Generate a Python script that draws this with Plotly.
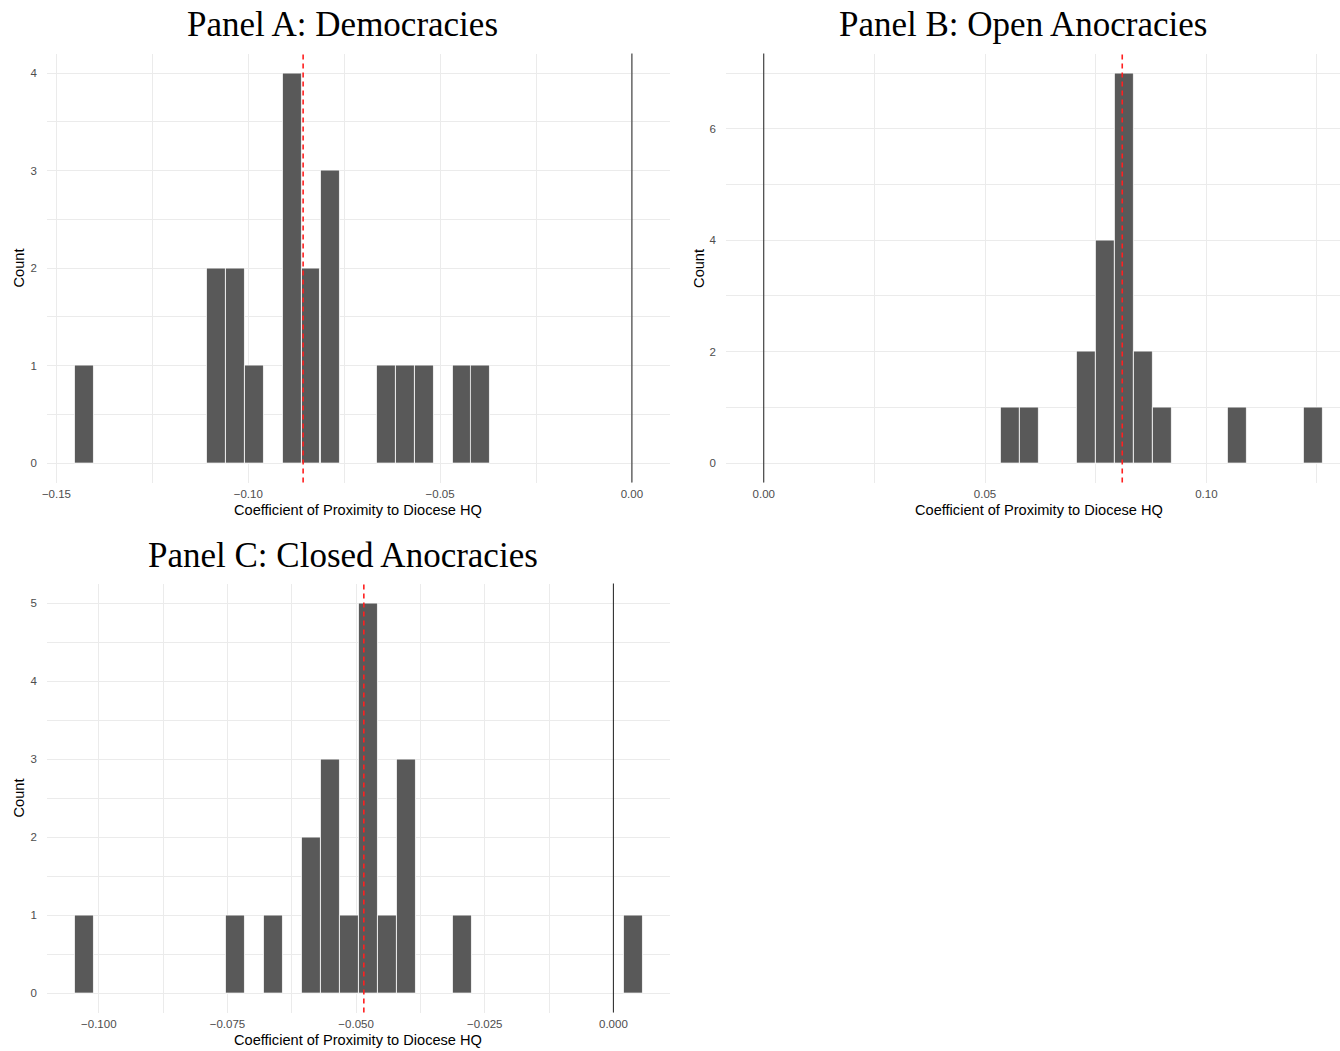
import plotly.graph_objects as go

# ---- Data ----
# Panel A: Democracies
a_centers = [-0.1427, -0.1083, -0.1033, -0.0984, -0.0886, -0.0837, -0.0787,
             -0.0640, -0.0590, -0.0541, -0.0443, -0.0394]
a_counts = [1, 2, 2, 1, 4, 2, 3, 1, 1, 1, 1, 1]
a_binwidth = 0.00492
a_mean = -0.0857

# Panel B: Open Anocracies
b_centers = [0.0557, 0.0600, 0.0729, 0.0771, 0.0814, 0.0857, 0.0900, 0.1071, 0.1242]
b_counts = [1, 1, 2, 4, 7, 2, 1, 1, 1]
b_binwidth = 0.00428
b_mean = 0.0810

# Panel C: Closed Anocracies
c_centers = [-0.1028, -0.0734, -0.0660, -0.0587, -0.0550, -0.0513, -0.0476,
             -0.0440, -0.0403, -0.0293, 0.0038]
c_counts = [1, 1, 1, 2, 3, 1, 5, 1, 3, 1, 1]
c_binwidth = 0.003676
c_mean = -0.0485

titles = ["Panel A: Democracies", "Panel B: Open Anocracies", "Panel C: Closed Anocracies"]
x_title = "Coefficient of Proximity to Diocese HQ"
y_title = "Count"

W, H = 1340, 1051
XS = -2.5  # small horizontal nudge
BAR = "#595959"
GRID = "#EBEBEB"
TICKFONT = dict(family="Liberation Sans, Arial, sans-serif", size=11.5, color="#4D4D4D")
TITLEFONT = dict(family="Liberation Sans, Arial, sans-serif", size=14.6, color="#000000")

def px_x(p):
    return (p + XS) / W

def px_y(p):
    return 1 - p / H

fig = go.Figure()

panels = [
    dict(c=a_centers, n=a_counts, w=a_binwidth, m=a_mean, ax="x", ay="y",
         xdom=[px_x(44.5), px_x(669.5)], ydom=[px_y(482.5), px_y(53.5)],
         xr=[-0.1525, 0.0098], yr=[-0.2, 4.2], xt=[-0.15, -0.10, -0.05, 0.00],
         xminor=[-0.125, -0.075, -0.025], fmt=".2f",
         yt=[0, 1, 2, 3, 4], yminor=[0.5, 1.5, 2.5, 3.5],
         title=titles[0], tx=341.5, ty=25, ytx=17, xtx=357),
    dict(c=b_centers, n=b_counts, w=b_binwidth, m=b_mean, ax="x2", ay="y2",
         xdom=[px_x(726), 1.0], ydom=[px_y(482.5), px_y(53.5)],
         xr=[-0.00857, 0.1302], yr=[-0.35, 7.35], xt=[0.00, 0.05, 0.10],
         xminor=[0.025, 0.075, 0.125], fmt=".2f",
         yt=[0, 2, 4, 6], yminor=[1, 3, 5, 7],
         title=titles[1], tx=1024, ty=25, ytx=699, xtx=1040),
    dict(c=c_centers, n=c_counts, w=c_binwidth, m=c_mean, ax="x3", ay="y3",
         xdom=[px_x(44.5), px_x(669.5)], ydom=[px_y(1012.5), px_y(583.5)],
         xr=[-0.1101, 0.0109], yr=[-0.25, 5.25],
         xt=[-0.100, -0.075, -0.050, -0.025, 0.000],
         xminor=[-0.1125, -0.0875, -0.0625, -0.0375, -0.0125, 0.0125], fmt=".3f",
         yt=[0, 1, 2, 3, 4, 5], yminor=[0.5, 1.5, 2.5, 3.5, 4.5],
         title=titles[2], tx=341.5, ty=555, ytx=17, xtx=357),
]

layout = dict(width=W, height=H, margin=dict(l=0, r=0, t=0, b=0),
              paper_bgcolor="white", plot_bgcolor="white", showlegend=False,
              bargap=0)
shapes = []
annotations = []

for i, p in enumerate(panels):
    xa = "xaxis" if i == 0 else f"xaxis{i+1}"
    ya = "yaxis" if i == 0 else f"yaxis{i+1}"
    fig.add_trace(go.Bar(x=p["c"], y=p["n"], width=p["w"], xaxis=p["ax"], yaxis=p["ay"],
                         marker=dict(color=BAR, line=dict(color="white", width=0.8)),
                         hoverinfo="x+y"))
    layout[xa] = dict(domain=p["xdom"], range=p["xr"], anchor=p["ay"],
                      tickmode="array", tickvals=p["xt"], tickformat=p["fmt"],
                      showgrid=True, gridcolor=GRID, gridwidth=1.1, zeroline=False,
                      showline=False, ticks="", tickfont=TICKFONT, ticklabelstandoff=3,
                      minor=dict(tickmode="array", tickvals=p["xminor"], showgrid=True,
                                 gridcolor=GRID, gridwidth=0.6, ticks=""))
    layout[ya] = dict(domain=p["ydom"], range=p["yr"], anchor=p["ax"],
                      tickmode="array", tickvals=p["yt"],
                      showgrid=True, gridcolor=GRID, gridwidth=1.1, zeroline=False,
                      showline=False, ticks="", tickfont=TICKFONT, ticklabelstandoff=9,
                      minor=dict(tickmode="array", tickvals=p["yminor"], showgrid=True,
                                 gridcolor=GRID, gridwidth=0.6, ticks=""))
    # zero line (black) and mean line (red dashed)
    shapes.append(dict(type="line", xref=p["ax"], yref=f"{p['ay']} domain",
                       x0=0, x1=0, y0=0, y1=1, line=dict(color="#333333", width=1.1)))
    shapes.append(dict(type="line", xref=p["ax"], yref=f"{p['ay']} domain",
                       x0=p["m"], x1=p["m"], y0=0, y1=1,
                       line=dict(color="#FF2020", width=1.6, dash="5px,4px")))
    annotations.append(dict(text=p["title"], x=px_x(p["tx"]), y=px_y(p["ty"]),
                            xref="paper", yref="paper", showarrow=False,
                            xanchor="center", yanchor="middle",
                            font=dict(family="Liberation Serif, DejaVu Serif, serif",
                                      size=35, color="#000000")))
    yc = (p["ydom"][0] + p["ydom"][1]) / 2
    annotations.append(dict(text=y_title, x=px_x(p["ytx"]), y=yc,
                            xref="paper", yref="paper", showarrow=False, textangle=-90,
                            xanchor="center", yanchor="middle", font=TITLEFONT))
    ybot_px = H * (1 - p["ydom"][0])
    annotations.append(dict(text=x_title, x=px_x(p["xtx"]), y=px_y(ybot_px + 27.5),
                            xref="paper", yref="paper", showarrow=False,
                            xanchor="center", yanchor="middle", font=TITLEFONT))

layout["shapes"] = shapes
layout["annotations"] = annotations
fig.update_layout(**layout)
# remove the page's default 8px body margin so the figure sits at the top-left corner
fig.write_html("out.html", config={"displayModeBar": False},
               post_script="document.body.style.margin='0';document.body.style.overflow='hidden';")
